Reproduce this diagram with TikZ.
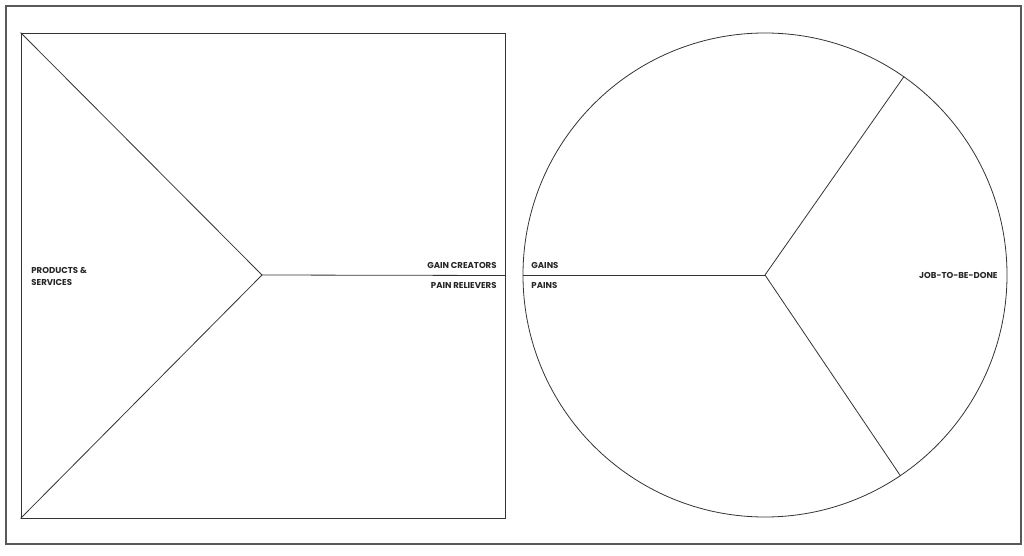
\documentclass[tikz,border=0pt]{standalone}
\usepackage{fontspec}
\setmainfont{Poppins}
\usepackage{tikz}
\usetikzlibrary{positioning}

\tikzset{
  lbl/.style={font=\fontsize{8.6}{13}\selectfont\bfseries, inner sep=0pt, text=black!85},
  box/.style={draw=black!80, line width=0.8bp, inner sep=0pt}
}

\begin{document}
\begin{tikzpicture}[x=1bp,y=-1bp, line width=0.8bp]
  \useasboundingbox (0,0) rectangle (1024,556);
  \node[box, draw=black!65, line width=1.2bp, minimum width=1015bp, minimum height=538bp] (frame) at (513.5,275) {};
  % value map
  \node[box, minimum width=484bp, minimum height=485bp] (map) at (263,275.5) {};
  \coordinate (V) at (262,275);
  \draw[black!80] (map.north west) -- (V);
  \draw[black!80] (map.south west) -- (V);
  \draw[black!80] (V) -- (map.east);
  % customer profile
  \node[box, circle, minimum size=484bp] (prof) at (765,275) {};
  \draw[black!80] (prof.west) -- (prof.center);
  \draw[black!80] (prof.center) -- (prof.55);
  \draw[black!80] (prof.center) -- (prof.-56);
  % labels
  \node[lbl, anchor=base east] (gc) at (497,269) {GAIN CREATORS};
  \node[lbl, anchor=base east] (pr) at (497,289) {PAIN RELIEVERS};
  \node[lbl, anchor=base west] (gains) at (531,269) {GAINS};
  \node[lbl, anchor=base west] (pains) at (531,289) {PAINS};
  \node[lbl, anchor=north west, align=left] (ps) at (31,266.5) {PRODUCTS \&\\SERVICES};
  \node[lbl, anchor=base east] (job) at (998,278.5) {JOB-TO-BE-DONE};
\end{tikzpicture}
\end{document}
